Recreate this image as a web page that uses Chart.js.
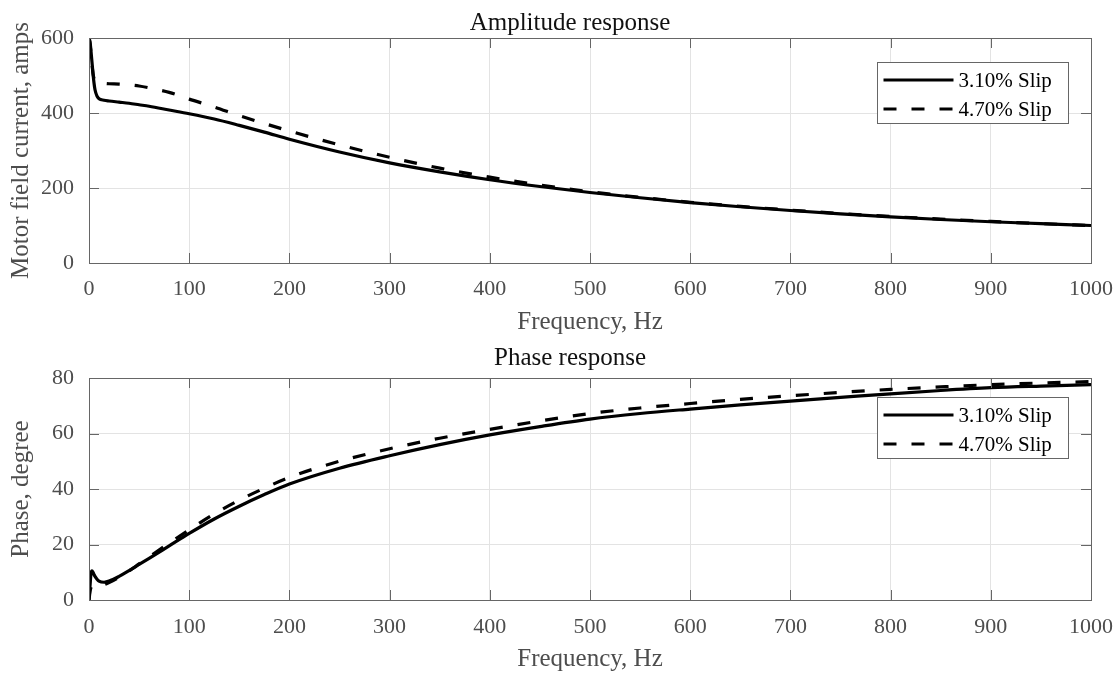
<!DOCTYPE html>
<html>
<head>
<meta charset="utf-8">
<script src="https://cdn.jsdelivr.net/npm/chart.js@4.4.1/dist/chart.umd.min.js"></script>
<style>
  body { margin: 0; background: #fff; }
  canvas { position: absolute; left: 0; }
  #amp { top: 0; }
  #phase { top: 340px; }
</style>
</head>
<body>
<canvas id="amp" width="1119" height="340"></canvas>
<canvas id="phase" width="1119" height="335"></canvas>
<script>
/* --- data --- */

const freq = [
  0, 1, 2, 3, 4, 5, 6, 8, 10, 15, 20, 30, 40, 50, 60, 80,
  100, 125, 150, 175, 200, 250, 300, 350, 400, 450, 500, 550,
  600, 650, 700, 750, 800, 850, 900, 950, 1000
]

const ampSlip310 = [
  600, 590, 565, 535, 505, 480, 462, 445, 438, 434, 432, 429, 426, 422, 418, 408,
  398, 384, 367, 349, 330, 296, 267, 243, 222, 204, 188, 174,
  161, 150, 140, 131, 123, 116, 110, 105, 100
]

const ampSlip470 = [
  600, 585, 560, 530, 505, 492, 485, 481, 480, 479, 478, 477, 475, 472, 467, 455,
  437, 416, 393, 372, 352, 315, 282, 253, 229, 208, 190, 175,
  162, 151, 141, 132, 124, 117, 111, 105, 100
]

const phaseSlip310 = [
  0, 5, 9.5, 10.5, 10, 9.2, 8.5, 7.5, 6.8, 6.4, 6.8, 8.5, 10.6, 12.8, 15, 19.5,
  24, 29.2, 33.8, 38, 41.8, 47.5, 52, 56, 59.5, 62.5, 65.2, 67.2,
  68.8, 70.3, 71.7, 73, 74.3, 75.5, 76.5, 77.1, 77.6
]

const phaseSlip470 = [
  0, 3, 4.5, 5, 5, 4.9, 4.8, 4.8, 4.9, 5.5, 6.3, 8.2, 10.5, 13, 15.5, 20.5,
  25.3, 31, 36, 40.3, 44.2, 50, 54.5, 58.3, 61.5, 64.5, 67.2, 69.2,
  70.8, 72.3, 73.6, 74.8, 75.9, 76.8, 77.6, 78.2, 78.7
]

const seriesLabels = ['3.10% Slip', '4.70% Slip']
const xTicks = { min: 0, max: 1000, step: 100 }

/* --- helpers --- */

const serif = 'Liberation Serif'
const grey = '#4d4d4d'

function pts(ys) {
  return freq.map((f, i) => ({ x: f, y: ys[i] }))
}

// matlab style box with inward ticks, axes title, legend box inside the axes
const axesDecor = {
  id: 'axesDecor',
  afterDatasetsDraw(chart, args, opts) {
    const { ctx, chartArea: a, scales } = chart
    ctx.save()
    ctx.strokeStyle = '#666'
    ctx.lineWidth = 1
    ctx.beginPath()
    scales.x.ticks.forEach(t => {
      const px = Math.round(scales.x.getPixelForValue(t.value)) + 0.5
      ctx.moveTo(px, a.bottom); ctx.lineTo(px, a.bottom - 10)
      ctx.moveTo(px, a.top); ctx.lineTo(px, a.top + 10)
    })
    scales.y.ticks.forEach(t => {
      const py = Math.round(scales.y.getPixelForValue(t.value)) + 0.5
      ctx.moveTo(a.left, py); ctx.lineTo(a.left + 10, py)
      ctx.moveTo(a.right, py); ctx.lineTo(a.right - 10, py)
    })
    ctx.stroke()
    ctx.strokeRect(Math.round(a.left) + 0.5, Math.round(a.top) + 0.5,
      Math.round(a.right - a.left), Math.round(a.bottom - a.top))

    // title (matlab puts it a little left of the axes centre here)
    ctx.fillStyle = '#111'
    ctx.font = '25px "' + serif + '"'
    ctx.textAlign = 'center'
    ctx.textBaseline = 'alphabetic'
    ctx.fillText(opts.title, (a.left + a.right) / 2 - 20, a.top - opts.titleGap)

    // legend
    const w = 191, h = 61
    const lx = Math.round(a.right - opts.right - w) + 0.5
    const ly = Math.round(a.top + opts.top) + 0.5
    ctx.fillStyle = '#fff'
    ctx.fillRect(lx, ly, w, h)
    ctx.strokeStyle = '#666'
    ctx.strokeRect(lx, ly, w, h)
    ctx.font = '21px "' + serif + '"'
    ctx.textAlign = 'left'
    ctx.textBaseline = 'middle'
    chart.data.datasets.forEach((ds, i) => {
      const cy = ly + 17.5 + i * 29
      ctx.beginPath()
      ctx.setLineDash(ds.borderDash || [])
      ctx.lineWidth = ds.borderWidth
      ctx.strokeStyle = ds.borderColor
      ctx.moveTo(lx + 6, cy); ctx.lineTo(lx + 76, cy)
      ctx.stroke()
      ctx.setLineDash([])
      ctx.fillStyle = '#000'
      ctx.fillText(ds.label, lx + 81, cy + 1)
    })
    ctx.restore()
  }
}

function makeChart(id, title, titleGap, yTitle, yMin, yMax, yStep, a, b, xHeight, tickPad, xTitlePad, legendTop) {
  return new Chart(document.getElementById(id), {
    type: 'line',
    data: {
      datasets: [{
        label: seriesLabels[0],
        data: pts(a),
        borderColor: '#000',
        borderWidth: 3.2,
        pointRadius: 0,
        cubicInterpolationMode: 'monotone'
      }, {
        label: seriesLabels[1],
        data: pts(b),
        borderColor: '#000',
        borderWidth: 3.2,
        borderDash: [13, 15],
        pointRadius: 0,
        cubicInterpolationMode: 'monotone'
      }]
    },
    options: {
      responsive: false,
      animation: false,
      layout: { padding: { left: 0, right: 28, top: 38, bottom: 0 } },
      plugins: {
        legend: { display: false },
        tooltip: { enabled: false },
        title: { display: false },
        axesDecor: { right: 23, top: legendTop, title: title, titleGap: titleGap }
      },
      scales: {
        x: {
          type: 'linear',
          min: xTicks.min,
          max: xTicks.max,
          border: { display: false },
          grid: { color: '#e3e3e3', drawTicks: false },
          ticks: {
            stepSize: xTicks.step,
            padding: tickPad,
            maxRotation: 0,
            autoSkip: false,
            color: grey,
            font: { family: serif, size: 22 },
            callback: v => String(v)
          },
          title: {
            display: true,
            text: 'Frequency, Hz',
            color: grey,
            font: { family: serif, size: 25 },
            padding: { top: 0, bottom: xTitlePad }
          },
          afterFit(s) { s.height = xHeight; s.paddingLeft = 0; s.paddingRight = 0 }
        },
        y: {
          min: yMin,
          max: yMax,
          border: { display: false },
          grid: { color: '#e3e3e3', drawTicks: false },
          ticks: {
            stepSize: yStep,
            padding: 15,
            color: grey,
            font: { family: serif, size: 22 },
            callback: v => String(v)
          },
          title: {
            display: true,
            text: yTitle,
            color: grey,
            font: { family: serif, size: 25 },
            padding: { top: 6, bottom: 0 }
          },
          afterFit(s) { s.width = 89; s.paddingTop = 0; s.paddingBottom = 0 }
        }
      }
    },
    plugins: [axesDecor]
  })
}

makeChart('amp', 'Amplitude response', 8,
  'Motor field current, amps', 0, 600, 200, ampSlip310, ampSlip470, 77, 13, 3, 24)

makeChart('phase', 'Phase response', 13,
  'Phase, degree', 0, 80, 20, phaseSlip310, phaseSlip470, 75, 14, 1, 19)
</script>
</body>
</html>
